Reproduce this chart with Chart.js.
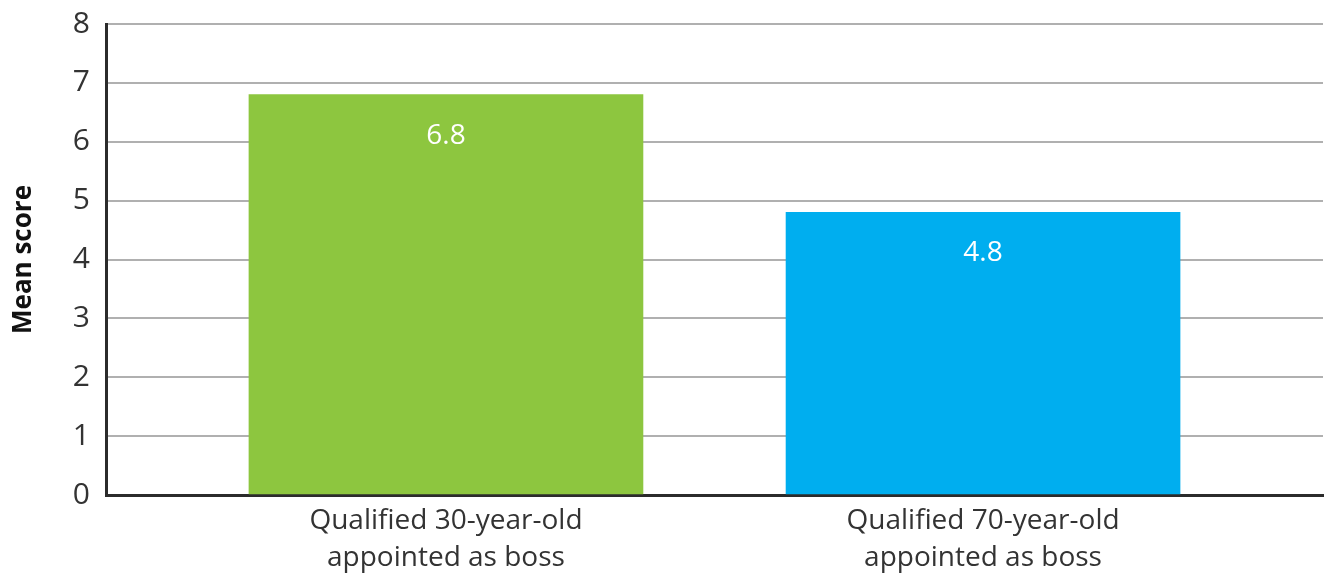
<!DOCTYPE html>
<html>
<head>
<meta charset="utf-8">
<script src="https://cdn.jsdelivr.net/npm/chart.js@4.4.1/dist/chart.umd.min.js"></script>
<style>
  html, body { margin: 0; padding: 0; background: #fff; }
  #wrap { width: 1325px; height: 578px; position: relative; }
</style>
</head>
<body>
<div id="wrap"><canvas id="chart"></canvas></div>
<script>
// Chart data.
const categories = [
  ['Qualified 30-year-old', 'appointed as boss'],
  ['Qualified 70-year-old', 'appointed as boss']
];
const values = [6.8, 4.8];
const barColors = ['#8dc63f', '#00aeef'];
const yTicks = [0, 1, 2, 3, 4, 5, 6, 7, 8];

const FONT = '"Open Sans", "Noto Sans", sans-serif';

// Draw value labels inside the bars, near the top.
const barValueLabels = {
  id: 'barValueLabels',
  afterDatasetsDraw(chart) {
    const { ctx } = chart;
    const meta = chart.getDatasetMeta(0);
    ctx.save();
    ctx.fillStyle = '#ffffff';
    ctx.font = '28px ' + FONT;
    ctx.textAlign = 'center';
    ctx.textBaseline = 'middle';
    meta.data.forEach((bar, i) => {
      ctx.fillText(values[i].toFixed(1), bar.x, bar.y + 41);
    });
    ctx.restore();
  }
};

new Chart(document.getElementById('chart'), {
  type: 'bar',
  data: {
    datasets: [
      {
        data: values.map((v, i) => ({ x: i, y: v })),
        backgroundColor: barColors,
        borderWidth: 0,
        barThickness: 394
      }
    ]
  },
  options: {
    responsive: true,
    maintainAspectRatio: false,
    animation: false,
    layout: { padding: { top: 24, right: 2, left: 0, bottom: 0 } },
    plugins: {
      legend: { display: false },
      tooltip: { enabled: false }
    },
    scales: {
      x: {
        type: 'linear',
        offset: false,
        min: -0.633,
        max: 1.633,
        afterBuildTicks: (scale) => {
          scale.ticks = categories.map((c, i) => ({ value: i }));
        },
        afterFit: (scale) => {
          scale.height = 83;
          scale.paddingLeft = 0;
          scale.paddingRight = 0;
        },
        grid: { display: false, drawTicks: false, offset: false },
        border: { display: true, color: '#2b2b2b', width: 3 },
        ticks: {
          padding: 8,
          color: '#333333',
          font: { family: FONT, size: 28, lineHeight: 1.3 },
          maxRotation: 0,
          autoSkip: false,
          callback: (v) => categories[v]
        }
      },
      y: {
        min: 0,
        max: 8,
        afterBuildTicks: (scale) => {
          scale.ticks = yTicks.map((v) => ({ value: v }));
        },
        afterFit: (scale) => {
          scale.width = 106;
          scale.paddingTop = 0;
          scale.paddingBottom = 0;
        },
        grid: { color: '#b0b0b0', lineWidth: 2, drawTicks: false },
        border: { display: true, color: '#2b2b2b', width: 3 },
        ticks: {
          padding: 16,
          color: '#333333',
          font: { family: FONT, size: 30 }
        },
        title: {
          display: true,
          text: 'Mean score',
          color: '#111111',
          padding: { top: 8, bottom: 20 },
          font: { family: FONT, size: 26, weight: 'bold' }
        }
      }
    }
  },
  plugins: [barValueLabels]
});
</script>
</body>
</html>
